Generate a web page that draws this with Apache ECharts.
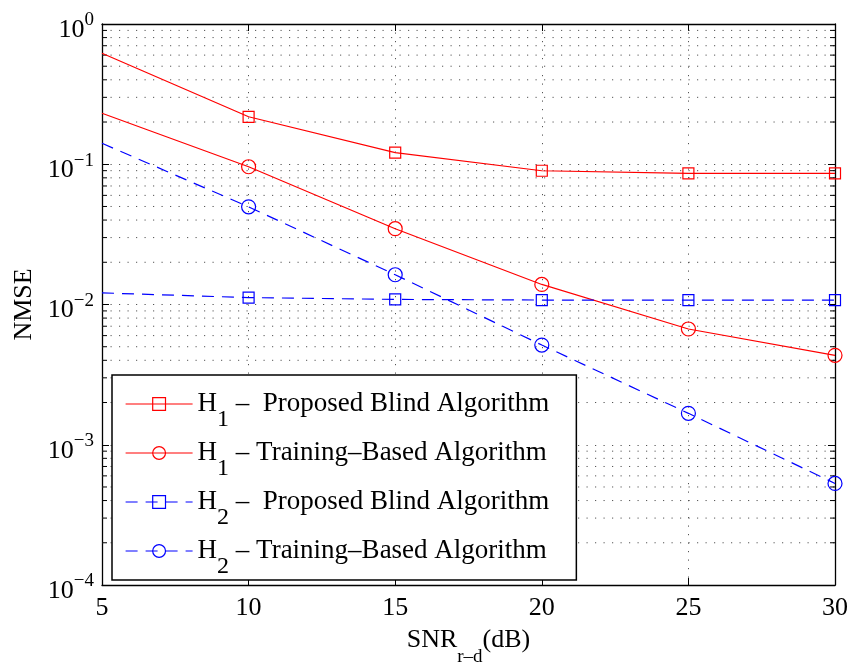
<!DOCTYPE html>
<html>
<head>
<meta charset="utf-8">
<script src="https://cdn.jsdelivr.net/npm/echarts@6/dist/echarts.min.js"></script>
<style>
  html, body { margin: 0; padding: 0; background: #fff; }
  #chart { width: 852px; height: 664px; }
</style>
</head>
<body>
<div id="chart"></div>
<script>
// data
const snr = [5, 10, 15, 20, 25, 30]
const h1Blind = [0.618, 0.218, 0.121, 0.0899, 0.0862, 0.0862]
const h1Train = [0.231, 0.096, 0.0347, 0.0139, 0.00669, 0.00434]
const h2Blind = [0.0121, 0.0112, 0.01087, 0.01076, 0.01076, 0.01076]
const h2Train = [0.141, 0.0497, 0.0163, 0.00514, 0.001675, 0.00053]
const seriesNames = ['h1b', 'h1t', 'h2b', 'h2t']
const legendLabels = {
  h1b: '{m|H}{s|1}{m| –  Proposed Blind Algorithm}',
  h1t: '{m|H}{s|1}{m| – Training–Based Algorithm}',
  h2b: '{m|H}{s|2}{m| –  Proposed Blind Algorithm}',
  h2t: '{m|H}{s|2}{m| – Training–Based Algorithm}'
}
const decades = [1e-4, 1e-3, 1e-2, 1e-1]
const minorMult = [2, 3, 4, 5, 6, 7, 8, 9]

const FONT = 'Liberation Serif'
const RED = '#ff0000'
const BLUE = '#0000ff'

const minorGrid = []
decades.forEach(d => minorMult.forEach(m => minorGrid.push([5, d * m])))

// first point carries no marker
function pts(ys) {
  return snr.map((x, i) => i === 0 ? { value: [x, ys[i]], symbol: 'none' } : [x, ys[i]])
}

function lineSeries(name, ys, color, symbol, size, dashed) {
  return {
    name: name,
    type: 'line',
    data: pts(ys),
    symbol: symbol,
    symbolSize: size,
    silent: true,
    z: 3,
    lineStyle: { color: color, width: 1.2, type: dashed ? [12, 8] : 'solid' },
    itemStyle: { color: 'rgba(0,0,0,0)', borderColor: color, borderWidth: 1.2 }
  }
}

const chart = echarts.init(document.getElementById('chart'))
chart.setOption({
  animation: false,
  backgroundColor: '#fff',
  textStyle: { fontFamily: FONT },
  grid: { left: 102, right: 17, top: 24, bottom: 79, containLabel: false, outerBoundsMode: 'none' },
  legend: {
    data: seriesNames,
    orient: 'vertical',
    left: 112,
    top: 375,
    padding: [15, 27, 1, 13],
    itemGap: 7,
    itemWidth: 67,
    itemHeight: 16,
    selectedMode: false,
    backgroundColor: '#fff',
    borderColor: '#000',
    borderWidth: 1.5,
    lineStyle: { width: 1.2 },
    itemStyle: { borderWidth: 1.2 },
    formatter: name => legendLabels[name],
    textStyle: {
      fontFamily: FONT,
      color: '#000',
      rich: {
        m: { fontFamily: FONT, fontSize: 27, lineHeight: 28, verticalAlign: 'top', color: '#000' },
        s: { fontFamily: FONT, fontSize: 24, lineHeight: 23, padding: [18, 0, 0, 0], verticalAlign: 'top', color: '#000' }
      }
    }
  },
  xAxis: [
    {
      type: 'value',
      min: 5,
      max: 30,
      interval: 5,
      position: 'bottom',
      name: '{m|SNR}{s|r–d}{m|(dB)}',
      nameLocation: 'middle',
      nameGap: 42,
      nameTextStyle: {
        rich: {
          m: { fontFamily: FONT, fontSize: 26, lineHeight: 26, verticalAlign: 'top', color: '#000' },
          s: { fontFamily: FONT, fontSize: 19, lineHeight: 19, padding: [21, 0, 0, 0], verticalAlign: 'top', color: '#000' }
        }
      },
      axisLine: { lineStyle: { color: '#000', width: 1.3 } },
      axisTick: { inside: true, length: 7, lineStyle: { color: '#000' } },
      axisLabel: { color: '#000', fontFamily: FONT, fontSize: 26, margin: 10 },
      splitLine: { show: true, lineStyle: { color: '#555', width: 1, type: [1.2, 7.3] } }
    },
    {
      type: 'value',
      min: 5,
      max: 30,
      interval: 5,
      position: 'top',
      axisLine: { lineStyle: { color: '#000', width: 1.3 } },
      axisTick: { inside: true, length: 7, lineStyle: { color: '#000' } },
      axisLabel: { show: false },
      splitLine: { show: false }
    }
  ],
  yAxis: [
    {
      type: 'log',
      logBase: 10,
      min: 1e-4,
      max: 1,
      position: 'left',
      name: 'NMSE',
      nameLocation: 'middle',
      nameGap: 64,
      nameTextStyle: { color: '#000', fontFamily: FONT, fontSize: 26 },
      axisLine: { show: true, lineStyle: { color: '#000', width: 1.3 } },
      axisTick: { inside: true, length: 7, lineStyle: { color: '#000' } },
      axisLabel: {
        margin: 8,
        formatter: v => {
          const e = Math.round(Math.log10(v))
          return '{b|10}{e|' + (e === 0 ? '0' : '−' + (-e)) + '}'
        },
        rich: {
          b: { fontFamily: FONT, fontSize: 26, lineHeight: 26, padding: [6, 0, 0, 0], verticalAlign: 'top', color: '#000' },
          e: { fontFamily: FONT, fontSize: 19, lineHeight: 19, verticalAlign: 'top', color: '#000' }
        }
      },
      splitLine: { show: true, lineStyle: { color: '#555', width: 1, type: [1.2, 7.3] } }
    },
    {
      type: 'log',
      logBase: 10,
      min: 1e-4,
      max: 1,
      position: 'right',
      axisLine: { show: true, lineStyle: { color: '#000', width: 1.3 } },
      axisTick: { inside: true, length: 7, lineStyle: { color: '#000' } },
      axisLabel: { show: false },
      splitLine: { show: false }
    }
  ],
  series: [
    {
      // minor log grid lines and minor ticks on both sides
      type: 'custom',
      silent: true,
      z: 1,
      data: minorGrid,
      renderItem: (params, api) => {
        const y = api.value(1)
        const a = api.coord([5, y])
        const b = api.coord([30, y])
        return {
          type: 'group',
          children: [
            { type: 'line', shape: { x1: a[0], y1: a[1], x2: b[0], y2: b[1] }, style: { stroke: '#555', lineWidth: 1, lineDash: [1.2, 7.3] } },
            { type: 'line', shape: { x1: a[0], y1: a[1], x2: a[0] + 5, y2: a[1] }, style: { stroke: '#000', lineWidth: 1 } },
            { type: 'line', shape: { x1: b[0] - 5, y1: b[1], x2: b[0], y2: b[1] }, style: { stroke: '#000', lineWidth: 1 } }
          ]
        }
      }
    },
    lineSeries('h1b', h1Blind, RED, 'rect', 11, false),
    lineSeries('h1t', h1Train, RED, 'circle', 14, false),
    lineSeries('h2b', h2Blind, BLUE, 'rect', 11, true),
    lineSeries('h2t', h2Train, BLUE, 'circle', 14, true)
  ]
})
</script>
</body>
</html>
